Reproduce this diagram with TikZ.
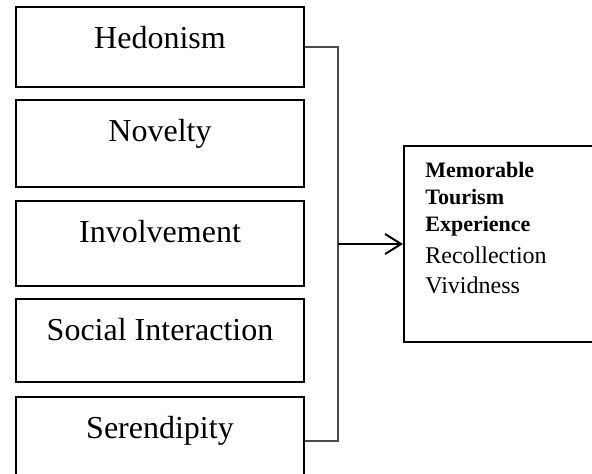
\documentclass[tikz,border=0pt]{standalone}
\usepackage{fontspec}
\setmainfont{Liberation Serif}
\usetikzlibrary{arrows.meta}

\begin{document}
\begin{tikzpicture}[
    x=0.5pt, y=-0.5pt,
    factor/.style={draw, line width=1pt, anchor=north west, inner sep=0pt,
        minimum width=144pt, text height=20.5pt,
        font=\fontsize{16}{19}\selectfont},
    outcome/.style={draw, line width=1pt, anchor=north west, inner sep=0pt,
        minimum width=110pt, minimum height=98pt},
    bracket/.style={line width=.6pt, black!70},
    leads/.style={line width=.75pt, -{Straight Barb[length=8pt, width=10pt, line width=1pt]}}
        ]

    \path [use as bounding box] (0,0) rectangle (592,473);
    \clip (0,0) rectangle (592,473);

    % factor boxes, tops and heights taken from the figure
    \node [factor, text depth=19.5pt] (hed) at (15,6)   {Hedonism};
    \node [factor, text depth=23pt]   (nov) at (15,99)  {Novelty};
    \node [factor, text depth=22pt]   (inv) at (15,200) {Involvement};
    \node [factor, text depth=21pt]   (soc) at (15,298) {Social Interaction};
    \node [factor, text depth=23.5pt] (ser) at (15,396) {Serendipity};

    \node [outcome] (mte) at (403,145) {};
    \node [anchor=north west, inner sep=0pt, align=left,
        font=\fontsize{12}{15}\selectfont]
        (mtetext) at (425,162)
        {\textbf{\fontsize{11}{13}\selectfont Memorable}\\[-1.5pt]
         \textbf{\fontsize{11}{13}\selectfont Tourism}\\[-1.5pt]
         \textbf{\fontsize{11}{13}\selectfont Experience}\\[1pt]
         Recollection\\ Vividness};

    \coordinate (bot) at (338,440);
    \coordinate (mid) at (bot |- mte.west);

    \draw [bracket] (hed.east) -| (mid) |- (ser.east);
    \draw [leads] (mid) -- (mte.west);

\end{tikzpicture}
\end{document}
